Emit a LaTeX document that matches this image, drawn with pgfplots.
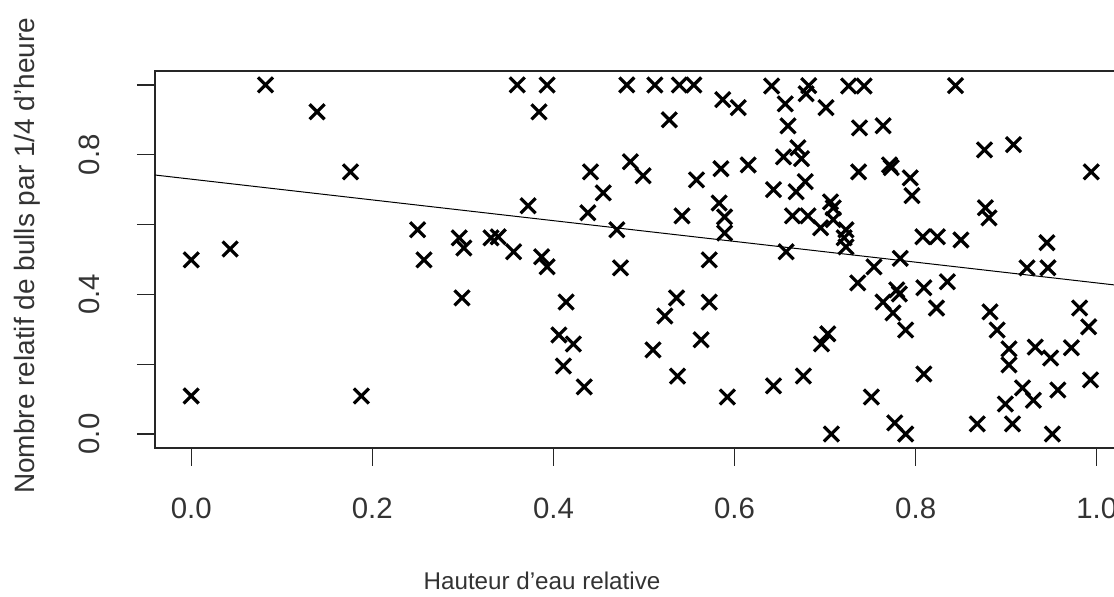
\documentclass[border=0pt]{standalone}
\usepackage{pgfplots}
\pgfplotsset{compat=1.18}
\usepackage{fontspec}
\setmainfont{Liberation Sans}
\pgfplotstableread{
x y
0.000 0.499
0.000 0.109
0.043 0.530
0.082 1.000
0.139 0.923
0.176 0.751
0.188 0.109
0.250 0.585
0.257 0.499
0.296 0.562
0.301 0.533
0.299 0.390
0.331 0.562
0.339 0.565
0.356 0.522
0.360 1.000
0.372 0.654
0.384 0.923
0.393 1.000
0.387 0.508
0.393 0.479
0.414 0.378
0.406 0.284
0.422 0.258
0.411 0.195
0.434 0.135
0.441 0.751
0.438 0.634
0.455 0.691
0.470 0.585
0.474 0.476
0.481 1.000
0.485 0.780
0.499 0.740
0.512 1.000
0.528 0.900
0.539 1.000
0.555 1.000
0.542 0.625
0.558 0.728
0.536 0.390
0.523 0.338
0.510 0.241
0.537 0.166
0.563 0.270
0.572 0.378
0.572 0.499
0.592 0.106
0.587 0.958
0.604 0.935
0.585 0.760
0.583 0.662
0.589 0.622
0.589 0.576
0.641 0.997
0.682 0.998
0.679 0.975
0.726 0.997
0.743 0.997
0.656 0.946
0.701 0.935
0.659 0.883
0.738 0.877
0.764 0.883
0.670 0.820
0.654 0.794
0.674 0.789
0.615 0.771
0.737 0.751
0.771 0.771
0.773 0.763
0.794 0.734
0.796 0.683
0.643 0.700
0.668 0.694
0.678 0.723
0.664 0.625
0.681 0.625
0.706 0.665
0.709 0.648
0.695 0.591
0.709 0.614
0.723 0.585
0.721 0.562
0.723 0.536
0.657 0.522
0.808 0.565
0.824 0.565
0.783 0.503
0.844 0.998
0.876 0.814
0.908 0.829
0.994 0.751
0.877 0.648
0.881 0.619
0.850 0.556
0.945 0.548
0.754 0.479
0.736 0.433
0.779 0.413
0.782 0.401
0.809 0.419
0.764 0.378
0.775 0.347
0.789 0.298
0.835 0.436
0.823 0.361
0.703 0.287
0.696 0.258
0.676 0.166
0.643 0.138
0.751 0.106
0.809 0.172
0.707 0.000
0.777 0.032
0.789 0.000
0.923 0.476
0.946 0.476
0.882 0.350
0.890 0.298
0.903 0.244
0.903 0.198
0.932 0.249
0.949 0.218
0.972 0.247
0.981 0.361
0.991 0.307
0.993 0.155
0.918 0.132
0.930 0.097
0.899 0.086
0.957 0.126
0.868 0.029
0.907 0.029
0.951 0.000
}\points
\pgfplotstableread{
x y
-0.04 0.742
1.04 0.421
}\fit
\begin{document}
\begin{tikzpicture}
\useasboundingbox (-77.5pt,-74.5pt) rectangle (479.5pt,224pt);
\clip (-77.5pt,-74.5pt) rectangle (479.5pt,224pt);
\begin{axis}[
  at={(0,0)}, anchor=south west,
  scale only axis, width=489pt, height=188.5pt,
  xmin=-0.04, xmax=1.04, ymin=-0.04, ymax=1.04,
  axis line style={line width=0.7pt, black!85},
  xtick={0,0.2,0.4,0.6,0.8,1.0},
  xticklabels={0.0,0.2,0.4,0.6,0.8,1.0},
  ytick={0,0.2,0.4,0.6,0.8,1.0},
  yticklabels={0.0,,0.4,,0.8,},
  xtick pos=left, ytick pos=left,
  tick align=outside, major tick length=9pt,
  tick style={line width=0.7pt, black!85},
  ticklabel style={font=\fontsize{14.7}{16}\selectfont, text=black!80},
  xticklabel style={anchor=center, yshift=-21pt},
  yticklabel style={xshift=-24pt, rotate=90, anchor=center},
  xlabel={Hauteur d'eau relative},
  ylabel={Nombre relatif de bulls par 1/4 d'heure},
  every axis x label/.style={at={(axis description cs:0.3957,0)}, anchor=center, yshift=-66.5pt, font=\fontsize{12.1}{14}\selectfont, text=black!80},
  every axis y label/.style={at={(axis description cs:0,0.51)}, xshift=-64pt, rotate=90, anchor=center, font=\fontsize{14}{16}\selectfont, text=black!80},
  clip=false,
]
\addplot[only marks, mark=x, mark size=5.3pt, mark options={line width=1.6pt, black}] table {\points};
\addplot[black, line width=0.5pt] table {\fit};
\end{axis}
\end{tikzpicture}
\end{document}
